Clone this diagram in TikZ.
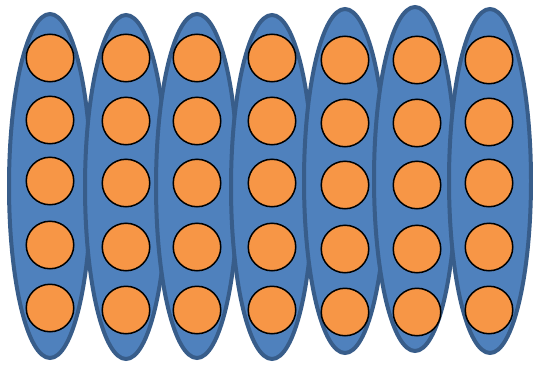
\documentclass[tikz,border=0pt]{standalone}
\usetikzlibrary{shapes.geometric}
\definecolor{blobfill}{HTML}{4F81BD}
\definecolor{blobline}{HTML}{385D8A}
\definecolor{ballfill}{HTML}{F79646}
\begin{document}
\begin{tikzpicture}[x=1pt,y=-1pt,
  blob/.style={ellipse,draw=blobline,fill=blobfill,line width=4pt,inner sep=0pt,minimum width=82pt,minimum height=344pt},
  ball/.style={circle,draw=black,fill=ballfill,line width=1.5pt,inner sep=0pt,minimum size=47.5pt}]
\useasboundingbox (0,0) rectangle (533,367);
\foreach \i/\cx/\cy in {1/50/186,2/126/187,3/197/186,4/272/187,5/345/181,6/415/179,7/490/181}{
  \node[blob] (e\i) at (\cx,\cy) {};
}
\foreach \i/\cx/\ya/\yb/\yc/\yd/\ye in {1/50/58/120/181/245/308,2/126/58/121/183/247/310,3/197/58/121/183/247/310,4/272/58/121/183/247/310,5/345/60/123/185/249/312,6/417/60/123/185/249/312,7/489/60/122/183/247/310}{
  \node[ball] (c\i a) at (\cx,\ya) {};
  \node[ball] (c\i b) at (\cx,\yb) {};
  \node[ball] (c\i c) at (\cx,\yc) {};
  \node[ball] (c\i d) at (\cx,\yd) {};
  \node[ball] (c\i e) at (\cx,\ye) {};
}
\end{tikzpicture}
\end{document}
